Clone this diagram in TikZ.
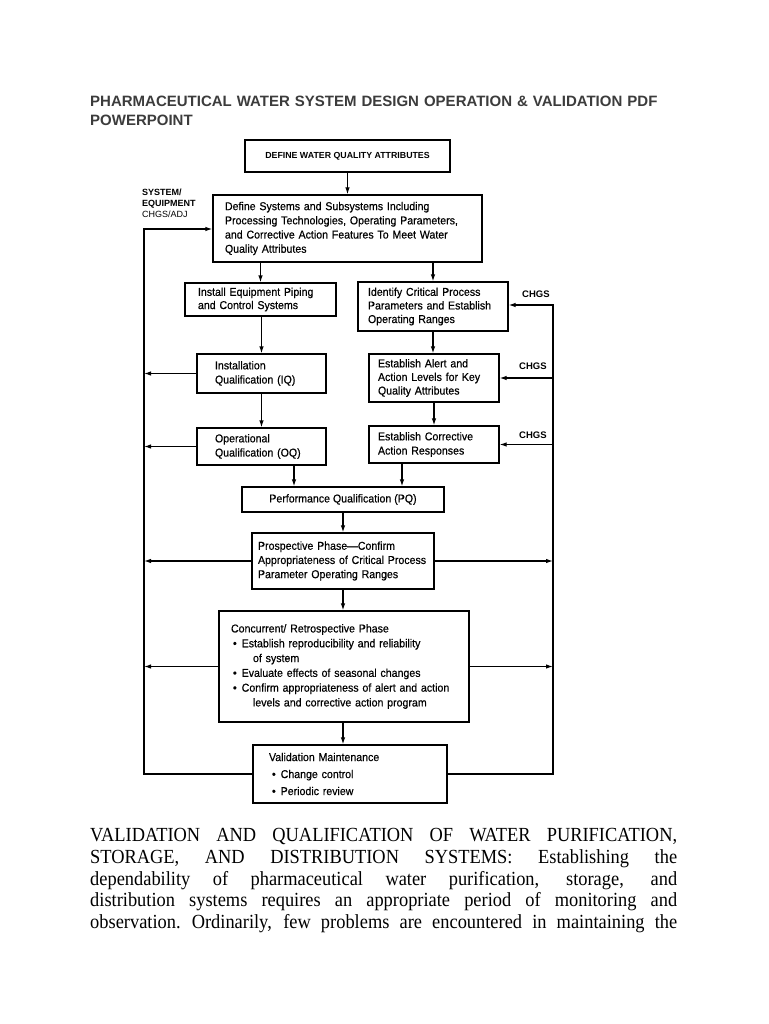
\documentclass[tikz,border=0pt]{standalone}
\usepackage{fontspec}
\setmainfont{Liberation Serif}[FakeStretch=0.92]
\newfontfamily\dsans{Liberation Sans}[FakeStretch=0.93,FakeBold=0.4]
\newfontfamily\lsans{Liberation Sans}
\usetikzlibrary{arrows.meta}
\definecolor{titlegray}{HTML}{3C3C3C}
\newcommand\jline[1]{\makebox[587pt][s]{\spaceskip=.25em plus 3em\xspaceskip=.3em plus 3em #1}}
\begin{document}
\begin{tikzpicture}[x=1pt,y=-1pt,
  box/.style={draw, line width=1.2pt, inner ysep=0pt, align=left,
    font=\dsans\fontsize{11.4}{14.2}\selectfont},
  arr/.style={line width=1.2pt, -{Latex[length=7pt,width=4.5pt]}},
  lbl/.style={font=\lsans\bfseries\fontsize{9.5}{11.5}\selectfont, inner sep=0pt, align=left}]
\useasboundingbox[fill=white] (0,0) rectangle (768,1024);

% title
\node[anchor=north west, inner sep=0pt, text width=640pt, align=left,
  font=\lsans\bfseries\fontsize{15}{19}\selectfont, text=titlegray] (title) at (90,95.5)
  {PHARMACEUTICAL WATER SYSTEM DESIGN OPERATION \& VALIDATION PDF\\POWERPOINT};

% boxes
\node[box, align=center, minimum width=205pt, minimum height=32pt,
  font=\lsans\bfseries\fontsize{8.8}{10}\selectfont] (def) at (347.5,156)
  {DEFINE WATER QUALITY ATTRIBUTES};
\node[box, minimum height=67pt, text width=245pt, inner xsep=12pt] (sys) at (347.5,228.5)
  {Define Systems and Subsystems Including\\Processing Technologies, Operating Parameters,\\and Corrective Action Features To Meet Water\\Quality Attributes};
\node[box, minimum height=33pt, text width=125pt, inner xsep=13pt, font=\dsans\fontsize{11.4}{13.2}\selectfont] (inst) at (260.5,299.5)
  {Install Equipment Piping\\and Control Systems};
\node[box, minimum height=49pt, text width=130pt, inner xsep=10pt, font=\dsans\fontsize{11.4}{13.6}\selectfont] (ident) at (433,306.5)
  {Identify Critical Process\\Parameters and Establish\\Operating Ranges};
\node[box, minimum height=39pt, text width=93pt, inner xsep=18pt] (iq) at (261.5,373.5)
  {Installation\\Qualification (IQ)};
\node[box, minimum height=48pt, text width=112pt, inner xsep=9pt, font=\dsans\fontsize{11.4}{13.6}\selectfont] (alert) at (434,378)
  {Establish Alert and\\Action Levels for Key\\Quality Attributes};
\node[box, minimum height=37pt, text width=93pt, inner xsep=18pt] (oq) at (261.5,446.5)
  {Operational\\Qualification (OQ)};
\node[box, minimum height=37pt, text width=112pt, inner xsep=9pt] (corr) at (434,444.5)
  {Establish Corrective\\Action Responses};
\node[box, align=center, minimum width=202pt, minimum height=25pt] (pq) at (343,499.5)
  {Performance Qualification (PQ)};
\node[box, minimum height=56pt, text width=170pt, inner xsep=6pt] (pros) at (343,561)
  {Prospective Phase—Confirm\\Appropriateness of Critical Process\\Parameter Operating Ranges};
\node[box, minimum height=111pt, text width=226pt, inner xsep=12pt, font=\dsans\fontsize{11.4}{14.8}\selectfont] (conc) at (344,666.5)
  {Concurrent/ Retrospective Phase\\
   \hspace*{2pt}\textbullet\hspace{5pt}Establish reproducibility and reliability\\
   \hspace*{22pt}of system\\
   \hspace*{2pt}\textbullet\hspace{5pt}Evaluate effects of seasonal changes\\
   \hspace*{2pt}\textbullet\hspace{5pt}Confirm appropriateness of alert and action\\
   \hspace*{22pt}levels and corrective action program};
\node[box, minimum height=58pt, text width=162pt, inner xsep=16pt, font=\dsans\fontsize{11.4}{17}\selectfont] (val) at (350,774)
  {Validation Maintenance\\
   \hspace*{3pt}\textbullet\hspace{5pt}Change control\\
   \hspace*{3pt}\textbullet\hspace{5pt}Periodic review};

% side labels
\node[lbl, anchor=north west, font=\lsans\bfseries\fontsize{9}{11.3}\selectfont] (sysl) at (142,188.5)
  {SYSTEM/\\EQUIPMENT\\{\mdseries CHGS/ADJ}};
\node[lbl, anchor=west] (chg1) at (522,294) {CHGS};
\node[lbl, anchor=west] (chg2) at (519,366) {CHGS};
\node[lbl, anchor=west] (chg3) at (519,435) {CHGS};

% helper coordinates
\coordinate (lx) at (144,0);
\coordinate (rx) at (553,0);
\coordinate (xa) at (294,0);
\coordinate (xb) at (402,0);
\coordinate (ys) at (0,229);
\coordinate (yi) at (0,305);

% main flow
\draw[arr] (def.south) -- (sys.north);
\draw[arr] (sys.south -| inst.north) -- (inst.north);
\draw[arr] (sys.south -| ident.north) -- (ident.north);
\draw[arr] (iq.north |- inst.south) -- (iq.north);
\draw[arr] (iq.south) -- (oq.north);
\draw[arr] (ident.south) -- (ident.south |- alert.north);
\draw[arr] (alert.south) -- (corr.north);
\draw[arr] (oq.south -| xa) -- (pq.north -| xa);
\draw[arr] (corr.south -| xb) -- (pq.north -| xb);
\draw[arr] (pq.south) -- (pros.north);
\draw[arr] (pros.south) -- (pros.south |- conc.north);
\draw[arr] (pros.south |- conc.south) -- (pros.south |- val.north);

% side feedback
\draw[arr] (iq.west) -- (iq.west -| lx);
\draw[arr] (oq.west) -- (oq.west -| lx);
\draw[arr] (pros.west) -- (pros.west -| lx);
\draw[arr] (pros.east) -- (pros.east -| rx);
\draw[arr] (conc.west) -- (conc.west -| lx);
\draw[arr] (conc.east) -- (conc.east -| rx);
\draw[arr] (val.west) -| (lx |- ys) -- (sys.west |- ys);
\draw[arr] (val.east) -| (rx |- yi) -- (ident.east |- yi);
\draw[arr] (rx |- alert.east) -- (alert.east);
\draw[arr] (rx |- corr.east) -- (corr.east);

% body text
\node[anchor=north west, inner sep=0pt, text width=587pt, align=left,
  font=\fontsize{20}{21.6}\selectfont] (body) at (90,828.5)
  {\jline{VALIDATION AND QUALIFICATION OF WATER PURIFICATION,}\\
   \jline{STORAGE, AND DISTRIBUTION SYSTEMS: Establishing the}\\
   \jline{dependability of pharmaceutical water purification, storage, and}\\
   \jline{distribution systems requires an appropriate period of monitoring and}\\
   \jline{observation. Ordinarily, few problems are encountered in maintaining the}};
\end{tikzpicture}
\end{document}
